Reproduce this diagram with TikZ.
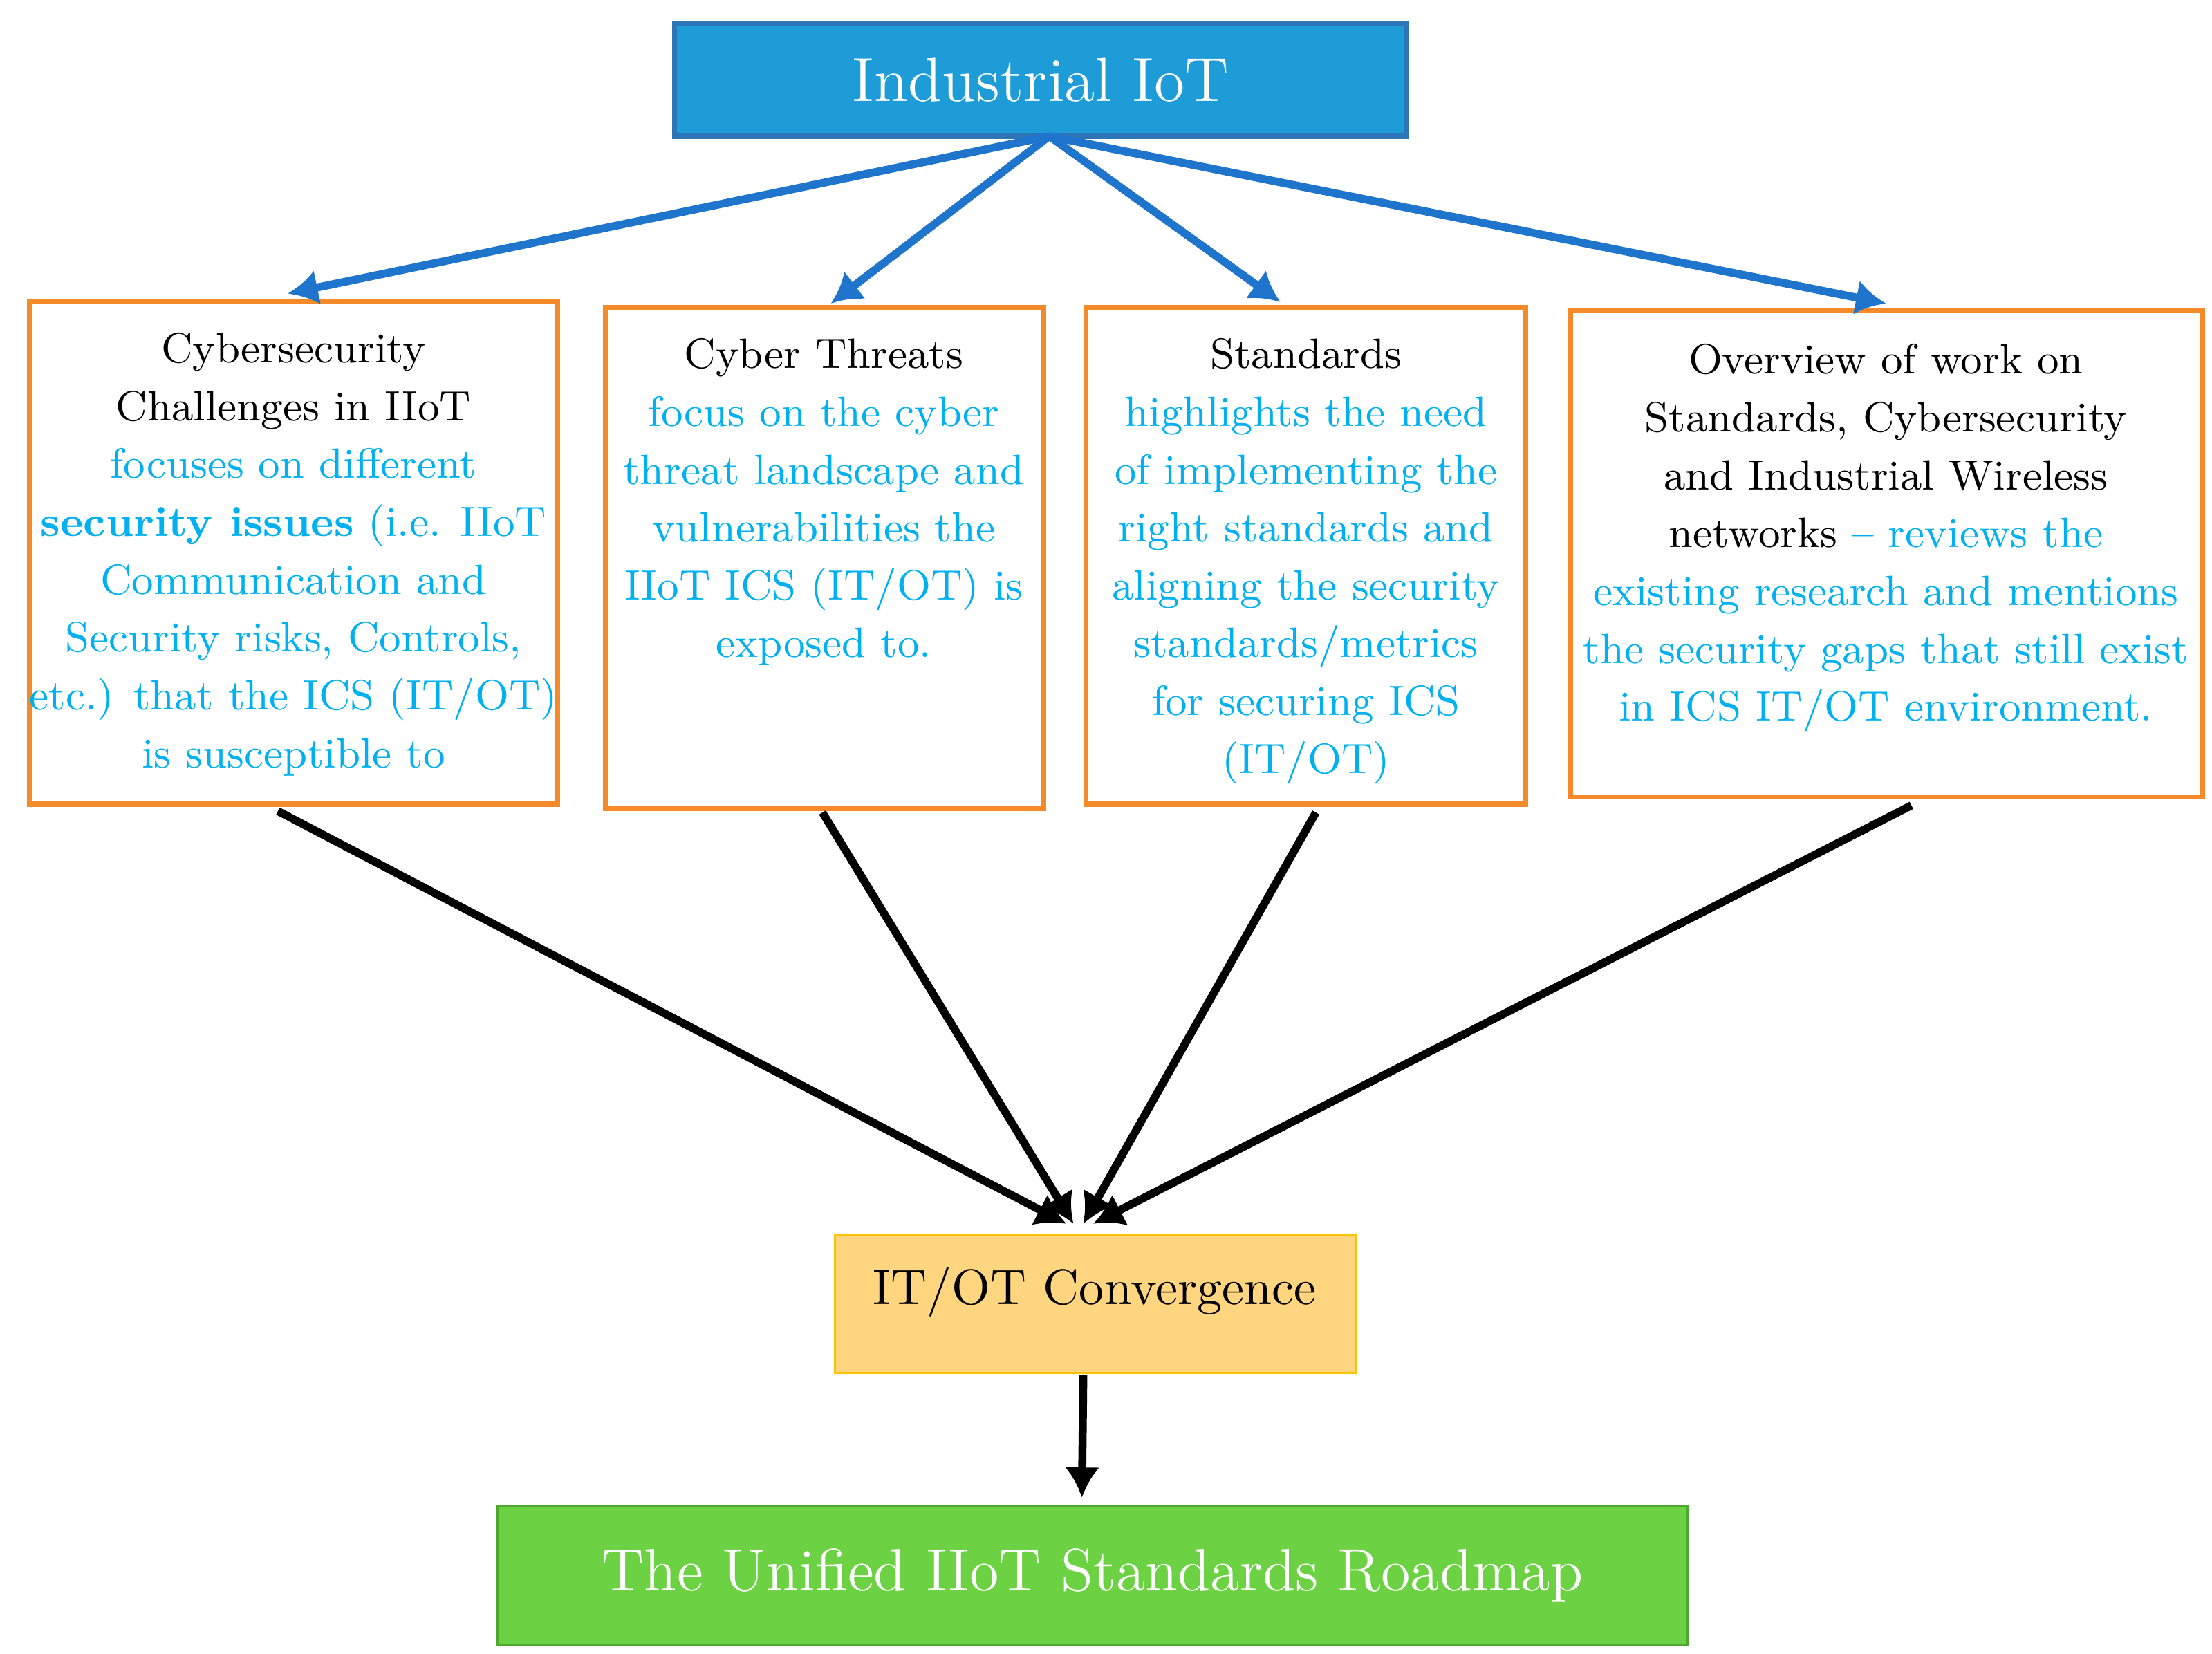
\documentclass[tikz,border=0pt]{standalone}
\usetikzlibrary{arrows.meta}
\definecolor{cy}{HTML}{00B0F0}
\definecolor{tblue}{HTML}{1E9CD8}
\definecolor{tborder}{HTML}{2E75B6}
\definecolor{org}{HTML}{F58A2A}
\definecolor{ablue}{HTML}{1F74CC}
\definecolor{yel}{HTML}{FFD580}
\definecolor{yelb}{HTML}{FFC000}
\definecolor{grn}{HTML}{6DD144}
\definecolor{grnb}{HTML}{4EA72E}
\begin{document}
\begin{tikzpicture}[x=0.01cm,y=-0.01cm,
  box/.style={draw=org,line width=1pt},
  txt/.style={anchor=north,align=center,inner sep=0pt,font=\fontsize{8.5}{11.6}\selectfont},
  barr/.style={draw=ablue,line width=1.6pt,-{Latex[length=6pt,width=7pt]}},
  karr/.style={draw=black,line width=1.6pt,-{Latex[length=6pt,width=7pt]}}]
\useasboundingbox (0,0) rectangle (1560,1166);
% title
\node[draw=tborder,fill=tblue,line width=1pt,minimum width=5.16cm,minimum height=0.79cm,text=white,font=\fontsize{12.5}{15}\selectfont] (top) at (734,56.5) {Industrial IoT};
% boxes
\node[box,minimum width=3.72cm,minimum height=3.54cm] (b1) at (207,390) {};
\node[box,minimum width=3.09cm,minimum height=3.53cm] (b2) at (581.5,393.5) {};
\node[box,minimum width=3.10cm,minimum height=3.50cm] (b3) at (921,392) {};
\node[box,minimum width=4.45cm,minimum height=3.43cm] (b4) at (1330.5,390.5) {};
\node[txt] (t1) at (207,234) {Cybersecurity\\Challenges in IIoT\\
\textcolor{cy}{focuses on different}\\
\textcolor{cy}{\textbf{security issues} (i.e. IIoT}\\
\textcolor{cy}{Communication and}\\
\textcolor{cy}{Security risks, Controls,}\\
\textcolor{cy}{etc.) that the ICS (IT/OT)}\\
\textcolor{cy}{is susceptible to}};
\node[txt] (t2) at (581,238) {Cyber Threats\\
\textcolor{cy}{focus on the cyber}\\
\textcolor{cy}{threat landscape and}\\
\textcolor{cy}{vulnerabilities the}\\
\textcolor{cy}{IIoT ICS (IT/OT) is}\\
\textcolor{cy}{exposed to.}};
\node[txt] (t3) at (921,238) {Standards\\
\textcolor{cy}{highlights the need}\\
\textcolor{cy}{of implementing the}\\
\textcolor{cy}{right standards and}\\
\textcolor{cy}{aligning the security}\\
\textcolor{cy}{standards/metrics}\\
\textcolor{cy}{for securing ICS}\\
\textcolor{cy}{(IT/OT)}};
\node[txt] (t4) at (1330,242) {Overview of work on\\
Standards, Cybersecurity\\
and Industrial Wireless\\
networks \textcolor{cy}{-- reviews the}\\
\textcolor{cy}{existing research and mentions}\\
\textcolor{cy}{the security gaps that still exist}\\
\textcolor{cy}{in ICS IT/OT environment.}};
\node[draw=yelb,fill=yel,minimum width=3.67cm,minimum height=0.97cm] (it) at (772.5,919.5) {};
\node[anchor=north,inner sep=0pt,font=\fontsize{10}{12}\selectfont] (itt) at (772,893) {IT/OT Convergence};
\node[draw=grnb,fill=grn,minimum width=8.39cm,minimum height=0.98cm,text=white,font=\fontsize{12}{15}\selectfont] (rm) at (770.5,1111) {The Unified IIoT Standards Roadmap};
% coordinates
\coordinate (s) at (740,96);
\coordinate (e1) at (203,207); \coordinate (e2) at (586,214);
\coordinate (e3) at (903,213); \coordinate (e4) at (1330,214);
\coordinate (k1) at (196,572); \coordinate (k2) at (580,573);
\coordinate (k3) at (928,573); \coordinate (k4) at (1348,568);
\coordinate (c1) at (752,863); \coordinate (c2) at (757,863);
\coordinate (c3) at (764,863); \coordinate (c4) at (771,863);
\coordinate (d1) at (764,970); \coordinate (d2) at (763,1056);
\draw[barr] (s) -- (e1);
\draw[barr] (s) -- (e2);
\draw[barr] (s) -- (e3);
\draw[barr] (s) -- (e4);
\draw[karr] (k1) -- (c1);
\draw[karr] (k2) -- (c2);
\draw[karr] (k3) -- (c3);
\draw[karr] (k4) -- (c4);
\draw[karr] (d1) -- (d2);
\end{tikzpicture}
\end{document}
